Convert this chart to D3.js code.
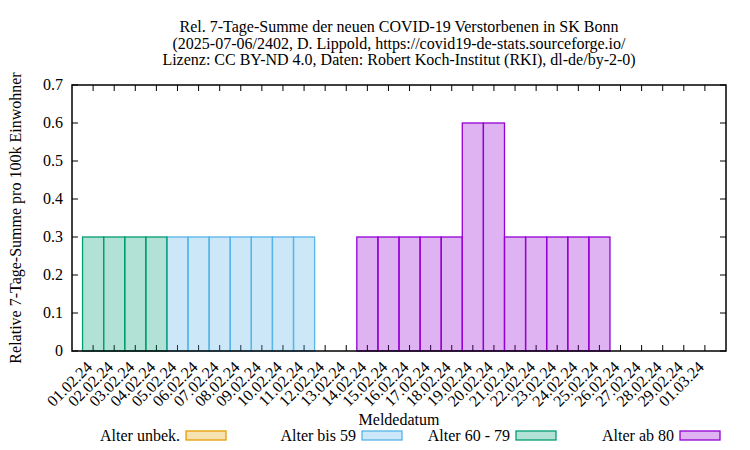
<!DOCTYPE html>
<html><head><meta charset="utf-8">
<script src="https://cdn.jsdelivr.net/npm/d3@7"></script>
<style>body{margin:0;background:#fff}</style>
</head><body><svg id="c" width="750" height="450"></svg>
<script>
const dates = ["01.02.24","02.02.24","03.02.24","04.02.24","05.02.24","06.02.24","07.02.24","08.02.24","09.02.24","10.02.24","11.02.24","12.02.24","13.02.24","14.02.24","15.02.24","16.02.24","17.02.24","18.02.24","19.02.24","20.02.24","21.02.24","22.02.24","23.02.24","24.02.24","25.02.24","26.02.24","27.02.24","28.02.24","29.02.24","01.03.24"];
const seriesNames = ["Alter unbek.","Alter bis 59","Alter 60 - 79","Alter ab 80"];
const alterUnbek = [0,0,0,0,0,0,0,0,0,0,0,0,0,0,0,0,0,0,0,0,0,0,0,0,0,0,0,0,0,0];
const alterBis59 = [0,0,0,0,0.3,0.3,0.3,0.3,0.3,0.3,0.3,0,0,0,0,0,0,0,0,0,0,0,0,0,0,0,0,0,0,0];
const alter60bis79 = [0.3,0.3,0.3,0.3,0,0,0,0,0,0,0,0,0,0,0,0,0,0,0,0,0,0,0,0,0,0,0,0,0,0];
const alterAb80 = [0,0,0,0,0,0,0,0,0,0,0,0,0,0.3,0.3,0.3,0.3,0.3,0.6,0.6,0.3,0.3,0.3,0.3,0.3,0,0,0,0,0];
const yTicks = [0,0.1,0.2,0.3,0.4,0.5,0.6,0.7];
const titleLines = ["Rel. 7-Tage-Summe der neuen COVID-19 Verstorbenen in SK Bonn","(2025-07-06/2402, D. Lippold, https://covid19-de-stats.sourceforge.io/","Lizenz: CC BY-ND 4.0, Daten: Robert Koch-Institut (RKI), dl-de/by-2-0)"];
const strokeColors = ["#e69f00","#56b4e9","#009e73","#9400d3"];

const svg = d3.select("#c").attr("font-family", "Liberation Serif");
const L=72, R=726, T=85, B=351;
const x = d3.scaleLinear().domain([-1,30]).range([L,R]);
const y = d3.scaleLinear().domain([0,0.7]).range([B,T]);
const fs = 16;

svg.append("g").selectAll("text").data(titleLines).join("text")
  .attr("x",(L+R)/2).attr("y",(d,i)=>32+i*16.5).attr("text-anchor","middle")
  .attr("font-size",fs).text(d=>d);

const tk = svg.append("g").attr("stroke","#000").attr("stroke-width",1);
dates.forEach((d,i)=>{
  tk.append("line").attr("x1",x(i)).attr("x2",x(i)).attr("y1",B).attr("y2",B-6);
  tk.append("line").attr("x1",x(i)).attr("x2",x(i)).attr("y1",T).attr("y2",T+6);
});
yTicks.forEach(v=>{
  tk.append("line").attr("x1",L).attr("x2",L+6).attr("y1",y(v)).attr("y2",y(v));
  tk.append("line").attr("x1",R).attr("x2",R-6).attr("y1",y(v)).attr("y2",y(v));
});

const table = dates.map((d,i)=>({i, s0:alterUnbek[i], s1:alterBis59[i], s2:alter60bis79[i], s3:alterAb80[i]}));
const stack = d3.stack().keys(["s0","s1","s2","s3"])(table);
stack.forEach((layer,k)=>{
  svg.append("g").selectAll("rect").data(layer.filter(d=>d[1]-d[0]>0)).join("rect")
    .attr("x",d=>x(d.data.i-0.5)).attr("width",d=>x(d.data.i+0.5)-x(d.data.i-0.5))
    .attr("y",d=>y(d[1])).attr("height",d=>y(d[0])-y(d[1]))
    .attr("fill",strokeColors[k]).attr("fill-opacity",0.3)
    .attr("stroke",strokeColors[k]).attr("stroke-width",1.3);
});

svg.append("rect").attr("x",L).attr("y",T).attr("width",R-L).attr("height",B-T)
  .attr("fill","none").attr("stroke","#000").attr("stroke-width",1.5);

svg.append("g").selectAll("text").data(yTicks).join("text")
  .attr("x",L-9).attr("y",d=>y(d)+5).attr("text-anchor","end").attr("font-size",fs)
  .text(d=>d===0?"0":d.toFixed(1));

svg.append("g").selectAll("text").data(dates).join("text")
  .attr("transform",(d,i)=>`translate(${x(i)},${B+17}) rotate(-45)`)
  .attr("text-anchor","end").attr("font-size",fs).text(d=>d);

svg.append("text").attr("transform",`translate(21,${(T+B)/2}) rotate(-90)`)
  .attr("text-anchor","middle").attr("font-size",fs).text("Relative 7-Tage-Summe pro 100k Einwohner");
svg.append("text").attr("x",(L+R)/2).attr("y",425).attr("text-anchor","middle").attr("font-size",fs).text("Meldedatum");

const legX = [226,402,556,720];
seriesNames.forEach((n,k)=>{
  svg.append("text").attr("x",legX[k]-46).attr("y",441).attr("text-anchor","end").attr("font-size",fs).text(n);
  svg.append("rect").attr("x",legX[k]-40).attr("y",431).attr("width",40).attr("height",9)
    .attr("fill",strokeColors[k]).attr("fill-opacity",0.3).attr("stroke",strokeColors[k]).attr("stroke-width",1.3);
});
</script></body></html>
